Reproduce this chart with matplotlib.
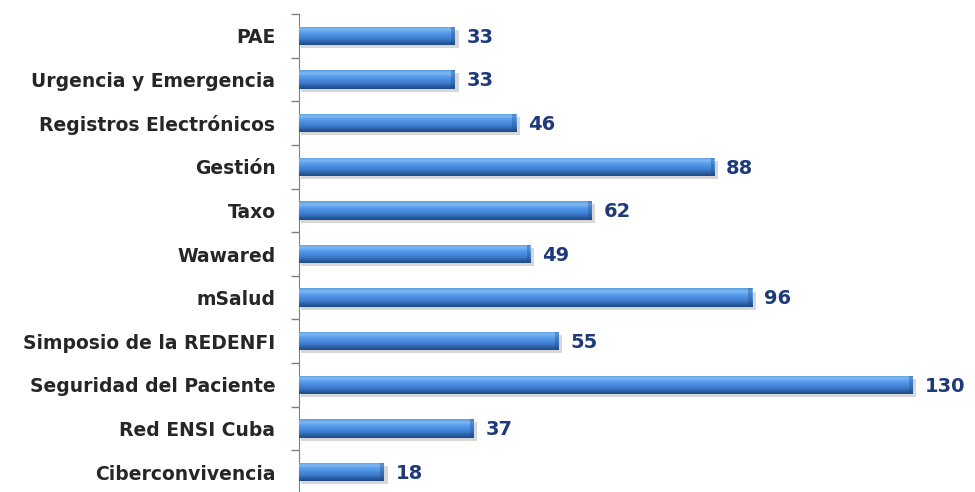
import numpy as np
import matplotlib.pyplot as plt
from matplotlib.colors import LinearSegmentedColormap
from matplotlib.patches import Rectangle

# categories from top to bottom
categories = ['PAE', 'Urgencia y Emergencia', 'Registros Electrónicos', 'Gestión',
              'Taxo', 'Wawared', 'mSalud', 'Simposio de la REDENFI',
              'Seguridad del Paciente', 'Red ENSI Cuba', 'Ciberconvivencia']
values = [33, 33, 46, 88, 62, 49, 96, 55, 130, 37, 18]

fig = plt.figure(figsize=(9.75, 4.92), dpi=100)
ax = fig.add_axes([299 / 975, -2 / 492, 1 - 299 / 975, 480 / 492])

n = len(categories)
y = np.arange(n)[::-1]
bar_h = 0.42

# gradient from bottom (dark) to top (light) for the cylinder look
grad_cmap = LinearSegmentedColormap.from_list(
    'bar', ['#1f4a85', '#2c62a8', '#3f7ed0', '#4a8ce0', '#5a9eea', '#7db8f4', '#5b9be0'])
grad = np.linspace(0, 1, 64).reshape(-1, 1)

for yi, v in zip(y, values):
    # soft shadow
    ax.add_patch(Rectangle((0.5, yi - bar_h / 2 - 0.07), v + 0.3, bar_h, color='#a8a8a8',
                           alpha=0.45, lw=0, zorder=1))
    bar = ax.barh(yi, v, height=bar_h, color='#3f7ed0', lw=0, zorder=2)[0]
    im = ax.imshow(grad, cmap=grad_cmap, aspect='auto', origin='lower', zorder=3,
                   interpolation='bilinear',
                   extent=(0, v, yi - bar_h / 2, yi + bar_h / 2))
    im.set_clip_path(bar)
    # darker end cap
    ax.add_patch(Rectangle((v - 0.8, yi - bar_h / 2), 0.8, bar_h, color='#1f4a85',
                           alpha=0.35, lw=0, zorder=4))
    ax.text(v + 2.5, yi - 0.03, str(v), va='center', ha='left', fontsize=14,
            fontweight='bold', color='#1f3a7a')

ax.set_xlim(0, (975 - 299) / 4.72)
ax.set_ylim(-0.5, n - 0.5)
ax.set_yticks(y)
ax.set_yticklabels(categories, fontsize=13.5, fontweight='bold', color='#262626')
ax.tick_params(axis='y', length=0, pad=17)
ax.set_yticks(np.arange(-0.5, n, 1.0), minor=True)
ax.tick_params(axis='y', which='minor', length=6, color='#808080', width=1)
ax.set_xticks([])
for s in ['top', 'right', 'bottom']:
    ax.spines[s].set_visible(False)
ax.spines['left'].set_color('#808080')

fig.savefig('out.png', dpi=100)
